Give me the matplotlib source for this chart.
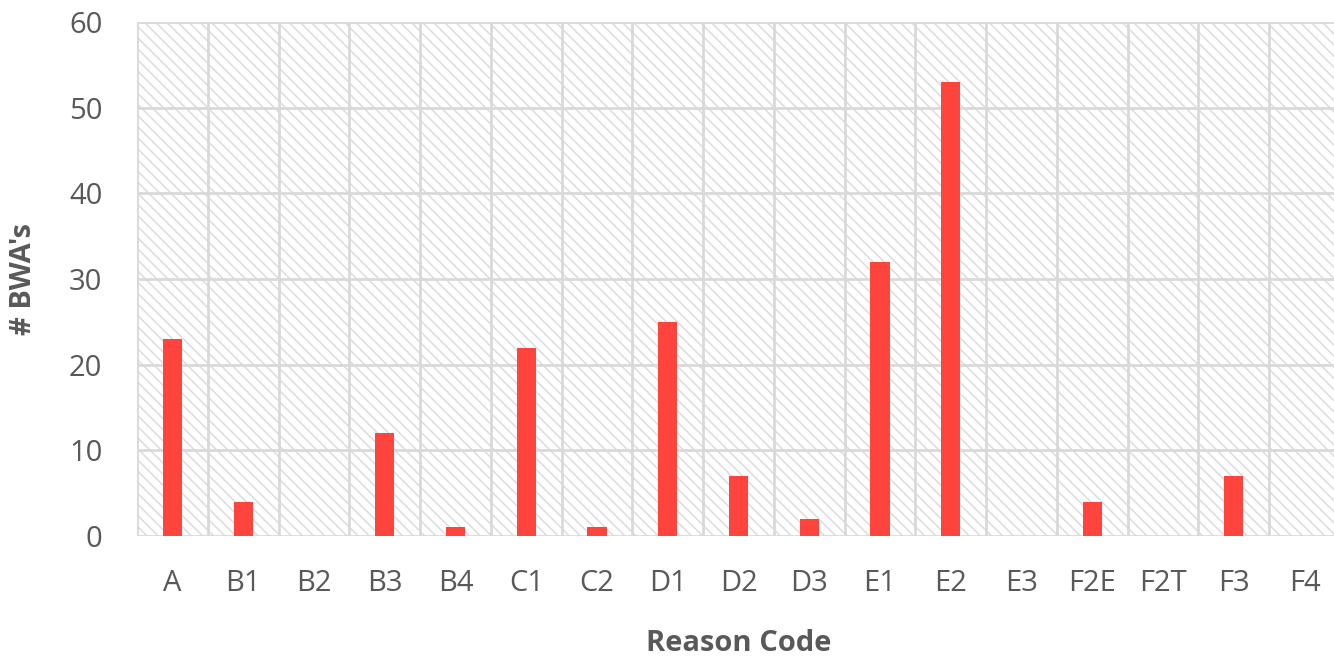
import matplotlib
matplotlib.use('Agg')
import matplotlib.pyplot as plt

plt.rcParams['font.family'] = ['Open Sans', 'DejaVu Sans']
plt.rcParams['hatch.color'] = '#dcdcdc'
plt.rcParams['hatch.linewidth'] = 1.1

codes = ['A', 'B1', 'B2', 'B3', 'B4', 'C1', 'C2', 'D1', 'D2', 'D3',
         'E1', 'E2', 'E3', 'F2E', 'F2T', 'F3', 'F4']
bwas = [23, 4, 0, 12, 1, 22, 1, 25, 7, 2, 32, 53, 0, 4, 0, 7, 0]
yticks = [0, 10, 20, 30, 40, 50, 60]

txt = '#595959'
grid = '#d9d9d9'

fig = plt.figure(figsize=(13.34, 6.58), dpi=100)
ax = fig.add_axes([0.1027, 0.1854, 0.9018, 0.7812])

# hatched background
ax.patch.set_facecolor('white')
ax.fill_between([-0.5, len(codes) - 0.5], 0, 60, facecolor='white',
                hatch='\\\\\\', linewidth=0, zorder=0)

x = range(len(codes))
ax.bar(x, bwas, width=0.27, color='#fe443c', zorder=3)

ax.set_xlim(-0.5, len(codes) - 0.5)
ax.set_ylim(0, 60)
ax.set_yticks(yticks)
ax.set_xticks(list(x))
ax.set_xticklabels(codes)

for y in yticks:
    ax.axhline(y, color=grid, lw=2, zorder=1)
for i in range(len(codes) + 1):
    ax.axvline(i - 0.5, color=grid, lw=2, zorder=1)

for s in ax.spines.values():
    s.set_visible(False)

ax.tick_params(axis='both', length=0, labelsize=21, colors=txt)
ax.tick_params(axis='y', pad=25)
ax.tick_params(axis='x', pad=24)

ax.set_ylabel("# BWA's", fontsize=21, fontweight='bold', color=txt, labelpad=22)
ax.set_xlabel('Reason Code', fontsize=21, fontweight='bold', color=txt, labelpad=22)

fig.savefig('out.png', dpi=100)
